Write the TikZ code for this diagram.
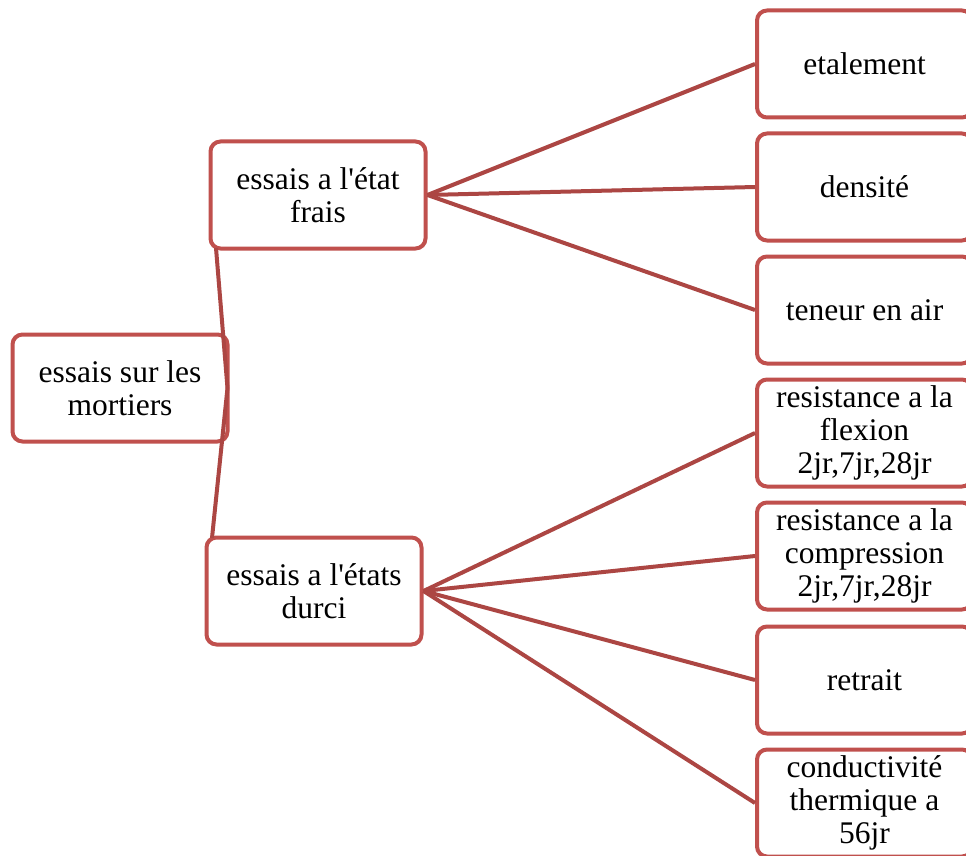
\documentclass[tikz,border=0pt]{standalone}
\usepackage{fontspec}
\setmainfont{Liberation Serif}[Ligatures=TeXOff]
\definecolor{boxred}{RGB}{192,80,77}
\definecolor{linkred}{RGB}{172,70,67}
\begin{document}
\begin{tikzpicture}[x=1pt,y=-1pt,
  box/.style={draw=boxred,line width=4pt,fill=white,rounded corners=10pt,
    minimum width=215pt,minimum height=107pt,inner sep=2pt,align=center,
    font=\fontsize{31.5}{33}\selectfont},
  link/.style={draw=linkred,line width=4pt}]
\useasboundingbox (0,0) rectangle (966,856);
\clip (0,0) rectangle (966,856);
\fill[white] (0,0) rectangle (966,856);
% node positions
\coordinate (pr) at (120,388);
\coordinate (pf) at (318,195);
\coordinate (pd) at (314,591);
\coordinate (fl) at (216,248);
\coordinate (dl) at (212,538);
\node[box] (etal) at (864.5,64) {etalement};
\node[box] (dens) at (864.5,187) {densité};
\node[box] (ten) at (864.5,310) {teneur en air};
\node[box] (flex) at (864.5,433) {resistance a la\\flexion\\2jr,7jr,28jr};
\node[box] (comp) at (864.5,556) {resistance a la\\compression\\2jr,7jr,28jr};
\node[box] (retr) at (864.5,680) {retrait};
\node[box] (cond) at (864.5,803) {conductivité\\thermique a\\56jr};
\node[box] (root) at (pr) {essais sur les\\mortiers};
\node[box] (frais) at (pf) {essais a l'état\\frais};
\node[box] (durci) at (pd) {essais a l'états\\durci};
\draw[link] (fl) -- ([xshift=-2pt]root.east) -- (dl);
\draw[link] (frais.east) -- (etal.west);
\draw[link] (frais.east) -- (dens.west);
\draw[link] (frais.east) -- (ten.west);
\draw[link] (durci.east) -- (flex.west);
\draw[link] (durci.east) -- (comp.west);
\draw[link] (durci.east) -- (retr.west);
\draw[link] (durci.east) -- (cond.west);
\end{tikzpicture}
\end{document}
